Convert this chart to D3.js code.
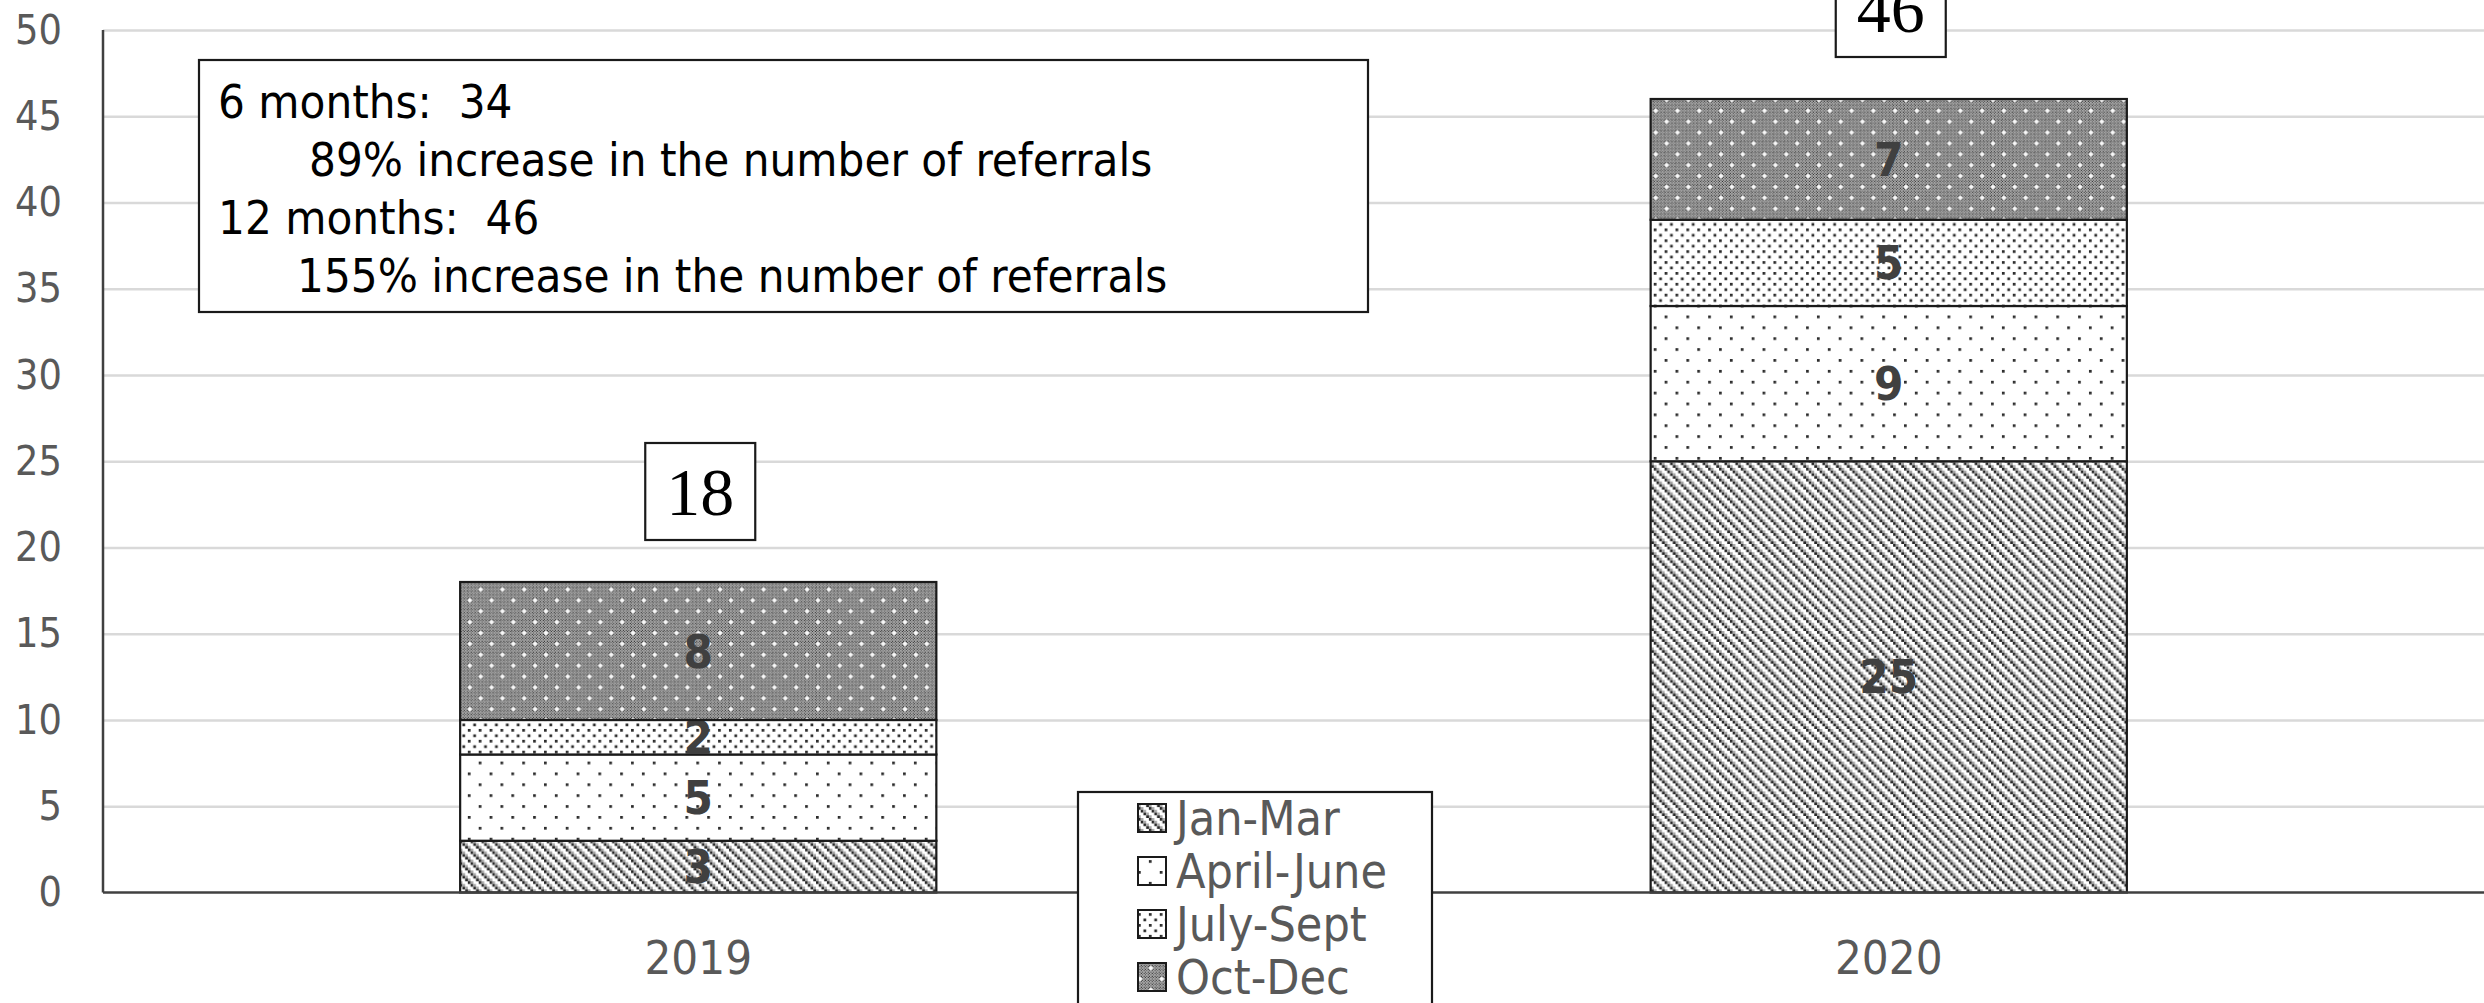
<!DOCTYPE html>
<html>
<head>
<meta charset="utf-8">
<script src="https://cdn.jsdelivr.net/npm/d3@7"></script>
<style>
  html, body { margin: 0; padding: 0; background: #fff; }
  svg { display: block; }
  text { white-space: pre; }
</style>
</head>
<body>
<svg id="chart" width="2484" height="1003"></svg>
<script>
// Referrals per quarter, stacked by year
const years = ["2019", "2020"];
const quarters = ["Jan-Mar", "April-June", "July-Sept", "Oct-Dec"];
const janMar = [3, 25];
const aprJun = [5, 9];
const julSep = [2, 5];
const octDec = [8, 7];
const yTicks = [0, 5, 10, 15, 20, 25, 30, 35, 40, 45, 50];
const noteLines = [
  "6 months:  34",
  "89% increase in the number of referrals",
  "12 months:  46",
  "155% increase in the number of referrals"
];
const noteIndent = [false, true, false, true];

const rows = years.map((yr, i) => ({
  year: yr,
  "Jan-Mar": janMar[i],
  "April-June": aprJun[i],
  "July-Sept": julSep[i],
  "Oct-Dec": octDec[i]
}));

const W = 2484, H = 1003;
const margin = { left: 103, right: 0, top: 30, bottom: 110.5 };
const SANS = '"DejaVu Sans Condensed", "DejaVu Sans", sans-serif';
const SERIF = '"Liberation Serif", "DejaVu Serif", serif';

const svg = d3.select("#chart");
svg.append("rect").attr("width", W).attr("height", H).attr("fill", "#fff");

// ---- fill patterns (small cell bitmaps, scaled up) ----
const defs = svg.append("defs");
function bitmapPattern(id, size, scale, cells, bg) {
  const p = defs.append("pattern")
    .attr("id", id)
    .attr("patternUnits", "userSpaceOnUse")
    .attr("width", size).attr("height", size)
    .attr("patternTransform", `scale(${scale})`);
  p.append("rect").attr("width", size).attr("height", size).attr("fill", bg);
  p.selectAll("rect.c").data(cells).join("rect")
    .attr("class", "c")
    .attr("x", d => d[0]).attr("y", d => d[1])
    .attr("width", 1).attr("height", 1)
    .attr("fill", d => d[2]);
}
const grid = n => d3.range(n * n).map(i => [i % n, Math.floor(i / n)]);
const S = 2.72;

// downward diagonal hatch
bitmapPattern("pat-q1", 8, S,
  grid(8).filter(([x, y]) => ((x - y) % 4 + 4) % 4 < 2)
         .map(([x, y]) => [x, y, ((x - y) % 4 + 4) % 4 === 0 ? "#262626" : "#a6a6a6"]),
  "#fff");
// sparse dots
bitmapPattern("pat-q2", 8, S,
  [[0, 0], [4, 4]].map(([x, y]) => [x, y, "#2a2a2a"]), "#fff");
// denser dots
bitmapPattern("pat-q3", 8, S,
  [[0, 0], [4, 0], [2, 2], [6, 2], [0, 4], [4, 4], [2, 6], [6, 6]]
    .map(([x, y]) => [x, y, "#2a2a2a"]), "#fff");
// fine dark checker with white crosses (16-cell grid at half scale)
(function () {
  const crossCentres = [[1, 1], [9, 9]];
  const isCross = (x, y) => crossCentres.some(([cx, cy]) => {
    const dx = Math.min(Math.abs(x - cx), 16 - Math.abs(x - cx));
    const dy = Math.min(Math.abs(y - cy), 16 - Math.abs(y - cy));
    return dx + dy <= 1;
  });
  const cells = grid(16).map(([x, y]) => {
    if (isCross(x, y)) return [x, y, "#ffffff"];
    return [x, y, (x + y) % 2 === 0 ? "#a8a8a8" : "#333333"];
  });
  bitmapPattern("pat-q4", 16, S / 2, cells, "#fff");
})();
const patternFor = {
  "Jan-Mar": "url(#pat-q1)",
  "April-June": "url(#pat-q2)",
  "July-Sept": "url(#pat-q3)",
  "Oct-Dec": "url(#pat-q4)"
};

// ---- scales ----
const x = d3.scaleBand()
  .domain(years)
  .range([margin.left, W - margin.right])
  .paddingInner(0.6)
  .paddingOuter(0.3);
const y = d3.scaleLinear()
  .domain([0, 50])
  .range([H - margin.bottom, margin.top]);

// ---- gridlines + y labels ----
const yAxis = svg.append("g")
  .attr("transform", `translate(${margin.left},0)`)
  .call(d3.axisLeft(y).tickValues(yTicks)
    .tickSize(-(W - margin.left - margin.right))
    .tickPadding(41));
yAxis.select(".domain").remove();
yAxis.selectAll(".tick line")
  .attr("stroke", "#d9d9d9").attr("stroke-width", 2.5)
  .filter(d => d === 0).remove();
yAxis.selectAll(".tick text")
  .attr("fill", "#595959")
  .style("font-family", SANS)
  .style("font-size", "41px");

// vertical axis line
svg.append("line")
  .attr("x1", margin.left).attr("x2", margin.left)
  .attr("y1", y(50)).attr("y2", y(0))
  .attr("stroke", "#404040").attr("stroke-width", 2.5);

// ---- stacked bars ----
const stack = d3.stack().keys(quarters);
const series = stack(rows);

const layers = svg.append("g").selectAll("g.layer")
  .data(series).join("g").attr("class", "layer");
layers.selectAll("rect")
  .data(s => s.map(d => ({ key: s.key, d })))
  .join("rect")
  .attr("x", o => x(o.d.data.year))
  .attr("width", x.bandwidth())
  .attr("y", o => y(o.d[1]))
  .attr("height", o => y(o.d[0]) - y(o.d[1]))
  .attr("fill", o => patternFor[o.key])
  .attr("stroke", "#1a1a1a")
  .attr("stroke-width", 2.2);

// segment value labels
layers.selectAll("text")
  .data(s => s.map(d => ({ key: s.key, d })))
  .join("text")
  .attr("x", o => x(o.d.data.year) + x.bandwidth() / 2)
  .attr("y", o => (y(o.d[0]) + y(o.d[1])) / 2)
  .attr("text-anchor", "middle")
  .attr("dominant-baseline", "central")
  .attr("fill", "#404040")
  .style("font-family", SANS)
  .style("font-weight", "bold")
  .style("font-size", "47px")
  .text(o => o.d[1] - o.d[0]);

// baseline
svg.append("line")
  .attr("x1", margin.left).attr("x2", W)
  .attr("y1", y(0)).attr("y2", y(0))
  .attr("stroke", "#404040").attr("stroke-width", 2.5);

// ---- x labels ----
const xAxis = svg.append("g")
  .attr("transform", `translate(0,${y(0)})`)
  .call(d3.axisBottom(x).tickSize(0).tickPadding(0));
xAxis.select(".domain").remove();
xAxis.selectAll(".tick text")
  .attr("y", 81).attr("dy", 0)
  .attr("fill", "#595959")
  .style("font-family", SANS)
  .style("font-size", "47px");

// ---- totals in boxes above bars ----
const totals = rows.map(r => ({ year: r.year, total: d3.sum(quarters, q => r[q]) }));
const tot = svg.append("g").selectAll("g")
  .data(totals).join("g")
  .attr("transform", d => `translate(${x(d.year) + x.bandwidth() / 2 + 2},${y(d.total) - 42})`);
tot.append("rect")
  .attr("x", -55).attr("y", -97).attr("width", 110).attr("height", 97)
  .attr("fill", "#fff").attr("stroke", "#1a1a1a").attr("stroke-width", 2.2);
tot.append("text")
  .attr("x", 0).attr("y", -48.5)
  .attr("text-anchor", "middle")
  .attr("dominant-baseline", "central")
  .attr("fill", "#000")
  .style("font-family", SERIF)
  .style("font-size", "68px")
  .text(d => d.total);

// ---- note box ----
const note = svg.append("g");
note.append("rect")
  .attr("x", 199).attr("y", 60).attr("width", 1169).attr("height", 252)
  .attr("fill", "#fff").attr("stroke", "#1a1a1a").attr("stroke-width", 2.2);
note.selectAll("text").data(noteLines).join("text")
  .attr("x", (d, i) => noteIndent[i] ? (i === 1 ? 309 : 297) : 218)
  .attr("y", (d, i) => 118 + i * 58)
  .attr("fill", "#000")
  .style("font-family", SANS)
  .style("font-size", "47px")
  .text(d => d);

// ---- legend ----
const legend = svg.append("g");
legend.append("rect")
  .attr("x", 1078).attr("y", 792).attr("width", 354).attr("height", 260)
  .attr("fill", "#fff").attr("stroke", "#1a1a1a").attr("stroke-width", 2.2);
const li = legend.selectAll("g.item").data(quarters).join("g")
  .attr("class", "item")
  .attr("transform", (d, i) => `translate(1138,${818 + i * 53})`);
li.append("rect")
  .attr("x", 0).attr("y", -14).attr("width", 28).attr("height", 28)
  .attr("fill", d => patternFor[d])
  .attr("stroke", "#1a1a1a").attr("stroke-width", 2);
li.append("text")
  .attr("x", 38).attr("y", 0)
  .attr("dominant-baseline", "central")
  .attr("fill", "#595959")
  .style("font-family", SANS)
  .style("font-size", "48px")
  .text(d => d);
</script>
</body>
</html>
